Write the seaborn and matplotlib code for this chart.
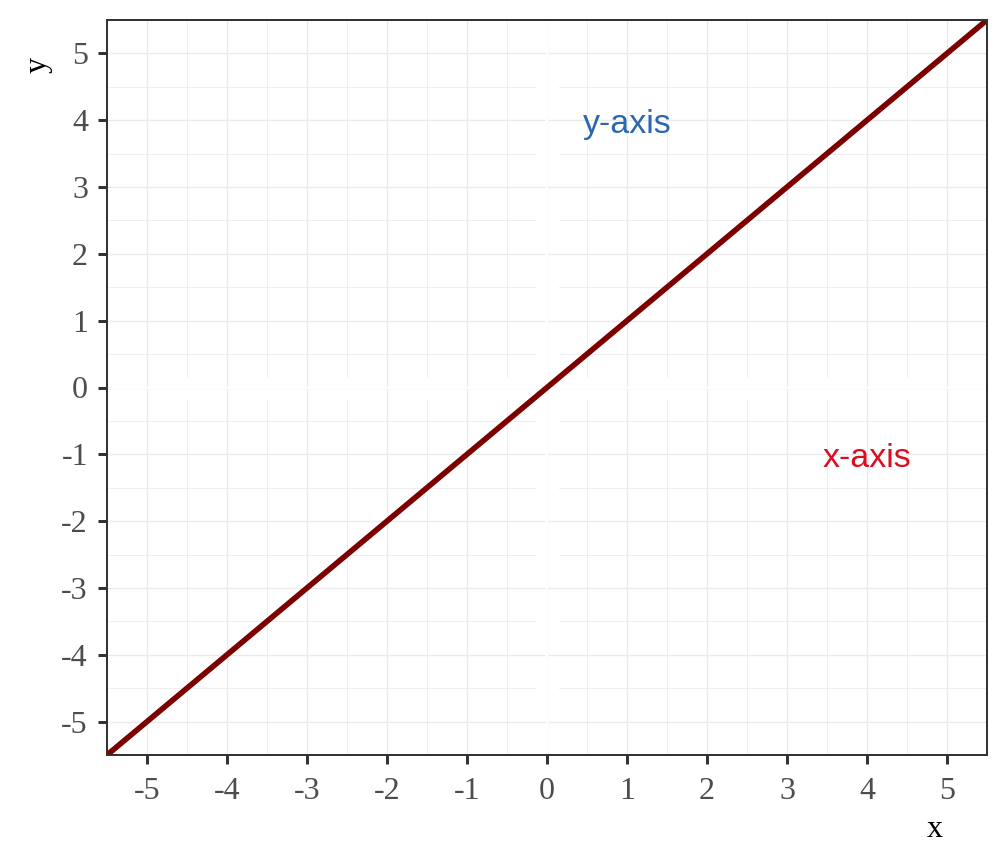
import numpy as np
import matplotlib
matplotlib.use("Agg")
import matplotlib.pyplot as plt
import seaborn as sns

# data
line_x = [-5.5, 5.5]
line_y = [-5.5, 5.5]
major_ticks = [-5, -4, -3, -2, -1, 0, 1, 2, 3, 4, 5]
minor_ticks = [-5.5, -4.5, -3.5, -2.5, -1.5, -0.5, 0.5, 1.5, 2.5, 3.5, 4.5, 5.5]
labels = ["y-axis", "x-axis"]
label_x = [1, 4]
label_y = [4, -1]
label_colors = ["#2a67ad", "#dc0d21"]

sns.set_theme(style="white")
plt.rcParams["font.family"] = ["Liberation Serif", "DejaVu Serif"]

fig = plt.figure(figsize=(7, 6), dpi=144)
ax = fig.add_axes([107 / 1008, 1 - 755 / 864, 880 / 1008, 735 / 864])

grid_col = "#ebebeb"
# minor grid first
for v in minor_ticks:
    ax.axvline(v, color=grid_col, linewidth=0.4, zorder=0.5)
    ax.axhline(v, color=grid_col, linewidth=0.4, zorder=0.5)
# wide white lines through origin
ax.axhline(0, color="white", linewidth=10.5, zorder=0.6)
ax.axvline(0, color="white", linewidth=11.5, zorder=0.6)
# major grid
for v in major_ticks:
    ax.axvline(v, color=grid_col, linewidth=0.7, zorder=0.7)
    ax.axhline(v, color=grid_col, linewidth=0.7, zorder=0.7)
ax.axhline(0, color="white", linewidth=1.2, zorder=0.8)
ax.axvline(0, color="white", linewidth=1.2, zorder=0.8)

sns.lineplot(x=line_x, y=line_y, color="#7d0000", linewidth=2.8, ax=ax, zorder=3)

for t, tx, ty, c in zip(labels, label_x, label_y, label_colors):
    ax.text(tx, ty - 0.07, t, color=c, fontsize=17, ha="center", va="center",
            family=["Liberation Sans", "DejaVu Sans"], zorder=4)

ax.set_xlim(-5.5, 5.5)
ax.set_ylim(-5.5, 5.5)
ax.set_xticks(major_ticks)
ax.set_yticks(major_ticks)
ax.set_xticklabels([str(v) for v in major_ticks])
ax.set_yticklabels([str(v) for v in major_ticks])
ax.tick_params(axis="both", which="major", direction="out", length=4.5, width=1.5,
               color="#333333", labelcolor="#4d4d4d", labelsize=16, pad=5,
               bottom=True, left=True)
ax.tick_params(axis="x", pad=6.5)

for s in ax.spines.values():
    s.set_color("#333333")
    s.set_linewidth(1.0)
    s.set_zorder(5)

ax.set_xlabel("x", fontsize=16, color="black")
ax.set_ylabel("y", fontsize=16, color="black")
ax.xaxis.set_label_coords(0.941, -0.102)
ax.yaxis.set_label_coords(-0.078, 0.939)
ax.xaxis.label.set_va("center")
ax.yaxis.label.set_va("center")

fig.savefig("out.png", dpi=144)
